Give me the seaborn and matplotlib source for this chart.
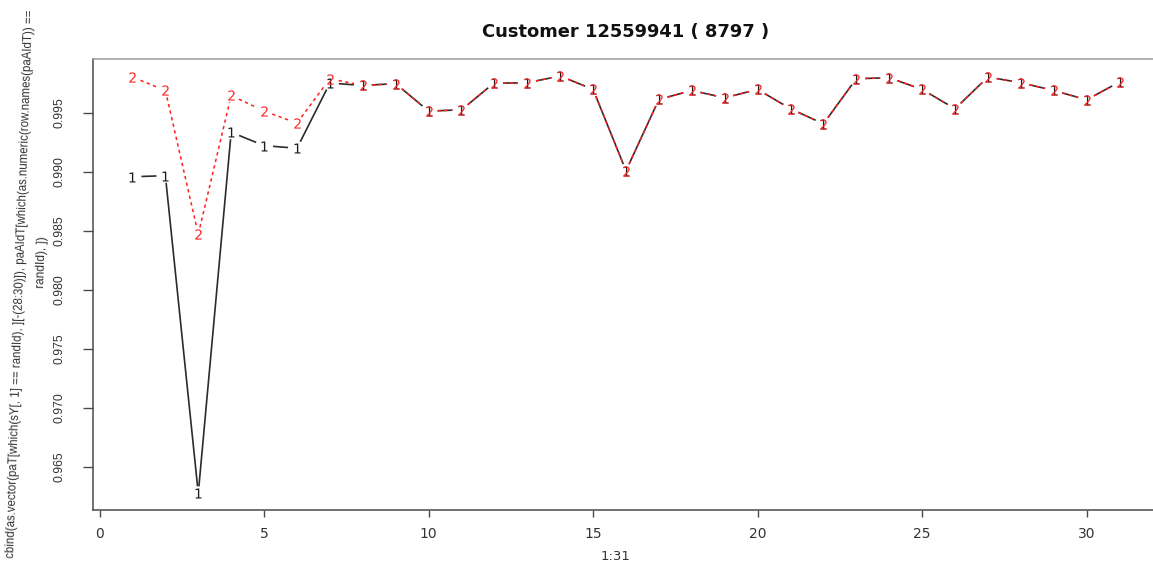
import numpy as np
import matplotlib
matplotlib.use("Agg")
import matplotlib.pyplot as plt
import seaborn as sns

# Index of the 31 observations
idx = list(range(1, 32))

# Column 1: vector from paT
series_1 = [0.98960, 0.98969, 0.96274, 0.99338, 0.99224, 0.99202, 0.99755,
            0.99735, 0.99750, 0.99517, 0.99528, 0.99758, 0.99758, 0.99815,
            0.99701, 0.99011, 0.99616, 0.99692, 0.99630, 0.99701, 0.99537,
            0.99409, 0.99792, 0.99800, 0.99701, 0.99537, 0.99806, 0.99758,
            0.99692, 0.99613, 0.99764]

# Column 2: row from paAIdT
series_2 = [0.99806, 0.99692, 0.98472, 0.99650, 0.99517, 0.99415, 0.99792,
            0.99735, 0.99750, 0.99517, 0.99528, 0.99758, 0.99758, 0.99815,
            0.99701, 0.99011, 0.99616, 0.99692, 0.99630, 0.99701, 0.99537,
            0.99409, 0.99792, 0.99800, 0.99701, 0.99537, 0.99806, 0.99758,
            0.99692, 0.99613, 0.99764]

x_ticks = [0, 5, 10, 15, 20, 25, 30]
y_ticks = [0.965, 0.970, 0.975, 0.980, 0.985, 0.990, 0.995]

title_text = "Customer 12559941 ( 8797 )"
xlabel_text = "1:31"
ylabel_lines = ["cbind(as.vector(paT[which(sY[, 1] == randId), ][-(28:30)]), "
                "paAIdT[which(as.numeric(row.names(paAIdT)) ==",
                "randId), ])"]

sns.set_style("white")
plt.rcParams["font.family"] = ["DejaVu Sans"]

W, H = 1153, 567
fig = plt.figure(figsize=(W / 100, H / 100), dpi=100)
# plot region: left edge at 93 px, right edge runs past the figure border
ax = fig.add_axes([93 / W, (H - 510) / H, 1066 / W, 450.7 / H])

# R-style 4% padding around the data range
all_y = np.array(series_1 + series_2)
yr = all_y.max() - all_y.min()
ax.set_ylim(all_y.min() - 0.04 * yr, all_y.max() + 0.04 * yr)
xr = max(idx) - min(idx)
ax.set_xlim(min(idx) - 0.04 * xr, max(idx) + 0.04 * xr)


def gapped_line(ax, xs, ys, gx=9.0, gy=7.0, **kw):
    """Type 'b' lines: segments stop short of each point symbol."""
    pts = ax.transData.transform(np.column_stack([xs, ys]))
    inv = ax.transData.inverted()
    for p0, p1 in zip(pts[:-1], pts[1:]):
        d = p1 - p0
        t = 1.0 / np.hypot(d[0] / gx, d[1] / gy)
        if t >= 0.5:
            continue
        seg = inv.transform(np.array([p0 + t * d, p1 - t * d]))
        ax.plot(seg[:, 0], seg[:, 1], solid_capstyle="butt",
                dash_capstyle="butt", **kw)


# series 1: solid black line with "1" symbols
gapped_line(ax, idx, series_1, color="#2b2b2b", lw=1.2, zorder=2)
sns.scatterplot(x=idx, y=series_1, marker="$1$", s=52, color="#1a1a1a",
                linewidth=0, ax=ax, zorder=3)
# series 2: dashed red line with "2" symbols
gapped_line(ax, idx, series_2, color="#ff2020", lw=1.1, ls=(0, (2.2, 2.2)),
            zorder=4)
sns.scatterplot(x=idx, y=series_2, marker="$2$", s=55, color="#ff2a2a",
                linewidth=0, ax=ax, zorder=5)

# axes frame and ticks
for sp in ax.spines.values():
    sp.set_visible(True)
    sp.set_color("#4a4a4a")
    sp.set_linewidth(1.1)
ax.spines["top"].set_color("#9a9a9a")

ax.set_xticks(x_ticks)
ax.set_xticklabels([str(v) for v in x_ticks], fontsize=10, color="#333333")
ax.set_yticks(y_ticks)
ax.set_yticklabels([f"{v:.3f}" for v in y_ticks], fontsize=8.8,
                   family="Liberation Sans", color="#333333",
                   rotation=90, va="center")
ax.tick_params(axis="x", direction="out", length=5, width=1, color="#4a4a4a",
               pad=7, bottom=True)
ax.tick_params(axis="y", direction="out", length=7, width=1, color="#4a4a4a",
               pad=13, left=True)
ax.grid(False)

# labels
fig.text(626 / W, 1 - 32 / H, title_text, ha="center", va="center",
         fontsize=12.9, fontweight="bold", color="#111111")
fig.text(615 / W, 1 - 556 / H, xlabel_text, ha="center", va="center",
         fontsize=9.5, color="#333333")
fig.text(21 / W, 1 - 284 / H, ylabel_lines[0], rotation=88,
         rotation_mode="anchor", ha="center", va="center", fontsize=8.3,
         family="Liberation Sans", color="#333333")
fig.text(42 / W, 1 - 262 / H, ylabel_lines[1], rotation=88,
         rotation_mode="anchor", ha="center", va="center", fontsize=8.6,
         family="Liberation Sans", color="#333333")

fig.savefig("out.png", dpi=100, facecolor="white")
